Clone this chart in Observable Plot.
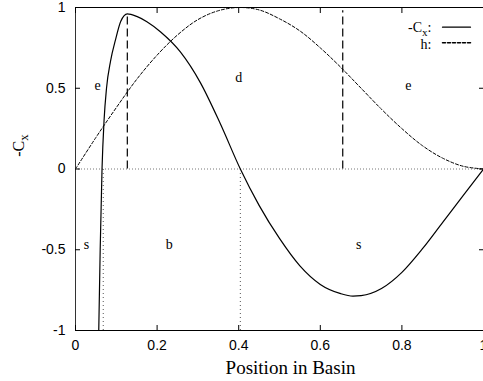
<!DOCTYPE html>
<html><head><meta charset="utf-8">
<script src="https://cdn.jsdelivr.net/npm/d3@7"></script>
<script src="https://cdn.jsdelivr.net/npm/@observablehq/plot@0.6"></script>
<style>body{margin:0;background:#fff}</style>
</head><body><div id="chart"></div>
<script>
// -Cx curve (solid)
const cxX = [0.057, 0.0605, 0.065, 0.070, 0.076, 0.086, 0.098, 0.111, 0.127, 0.15, 0.175, 0.208, 0.257, 0.306, 0.355, 0.404, 0.45, 0.5, 0.55, 0.6, 0.65, 0.68, 0.7, 0.75, 0.8, 0.85, 0.9, 0.95, 1.0];
const cxY = [-1, -0.5, 0, 0.3, 0.5, 0.67, 0.8, 0.915, 0.961, 0.945, 0.912, 0.85, 0.725, 0.535, 0.28, 0, -0.225, -0.43, -0.60, -0.715, -0.772, -0.787, -0.784, -0.74, -0.64, -0.495, -0.33, -0.165, 0];
// h curve (dashed)
const hX = [0, 0.05, 0.1, 0.15, 0.2, 0.25, 0.3, 0.35, 0.4, 0.45, 0.5, 0.55, 0.6, 0.65, 0.7, 0.75, 0.8, 0.85, 0.9, 0.95, 1];
const hY = [0, 0.195, 0.38, 0.555, 0.705, 0.83, 0.925, 0.98, 1.0, 0.985, 0.93, 0.855, 0.75, 0.63, 0.5, 0.37, 0.25, 0.145, 0.067, 0.017, 0];
// axes
const xTicks = [0, 0.2, 0.4, 0.6, 0.8, 1];
const xTickLabels = ["0", "0.2", "0.4", "0.6", "0.8", "1"];
const yTicks = [-1, -0.5, 0, 0.5, 1];
const yTickLabels = ["-1", "-0.5", "0", "0.5", "1"];
// region labels
const regionLabels = ["e", "d", "e", "s", "b", "s"];
const regionX = [0.054, 0.40, 0.816, 0.027, 0.23, 0.694];
const regionY = [0.52, 0.567, 0.52, -0.47, -0.47, -0.47];
// vertical markers
const dashX = [0.127, 0.655];
const dashTop = [0.961, 0.98];
const dotX = [0.068, 0.404];
const dotBottom = [-1, -1];
// legend
const legendNames = ["-Cx:", "h:"];

const cx = cxX.map((x, i) => ({x, y: cxY[i]}));
const h = hX.map((x, i) => ({x, y: hY[i]}));
const regions = regionLabels.map((t, i) => ({t, x: regionX[i], y: regionY[i]}));
const dashes = dashX.map((x, i) => ({x, y1: 0, y2: dashTop[i]}));
const dots = dotX.map((x, i) => ({x, y1: dotBottom[i], y2: 0}));

const serif = "Liberation Serif, Times New Roman, serif";
const lineShape = {draw(ctx, l) { ctx.moveTo(0, 0); ctx.lineTo(0, -l); }};

const chart = Plot.plot({
  width: 483, height: 381,
  marginLeft: 75, marginRight: 0, marginTop: 7, marginBottom: 51,
  x: {domain: [0, 1]},
  y: {domain: [-1, 1]},
  style: {fontFamily: "Liberation Sans, Arial, sans-serif", fontSize: "14px", background: "#fff", color: "#000"},
  marks: [
    Plot.ruleY([0], {stroke: "#777", strokeDasharray: "1,2"}),
    Plot.ruleX(dots, {x: "x", y1: "y1", y2: "y2", stroke: "#555", strokeDasharray: "1,3"}),
    Plot.ruleX(dashes, {x: "x", y1: "y1", y2: "y2", stroke: "#000", strokeWidth: 1.2, strokeDasharray: "8,4"}),
    Plot.line(h, {x: "x", y: "y", curve: "catmull-rom", stroke: "#000", strokeWidth: 1, strokeDasharray: "3,2", clip: true}),
    Plot.line(cx, {x: "x", y: "y", curve: "monotone-x", stroke: "#000", strokeWidth: 1.2, clip: true}),
    Plot.ruleY([-1, 1], {stroke: "#000"}),
    Plot.ruleX([0], {stroke: "#333"}),
    Plot.axisX(xTicks, {anchor: "bottom", tickSize: -5, tickPadding: 15, tickFormat: d => xTickLabels[xTicks.indexOf(d)], label: null}),
    Plot.axisX(xTicks, {anchor: "top", tickSize: -5, tickFormat: () => "", label: null}),
    Plot.axisY(yTicks, {anchor: "left", tickSize: -5, tickPadding: 15, tickFormat: d => yTickLabels[yTicks.indexOf(d)], label: null}),
    Plot.axisY(yTicks, {anchor: "right", tickSize: -5, tickFormat: () => "", label: null}),
    Plot.text(regions, {x: "x", y: "y", text: "t", fontFamily: serif, fontSize: 14}),
    Plot.text([legendNames[0]], {frameAnchor: "top-right", dx: -52, dy: 20, textAnchor: "end", lineAnchor: "middle", fontFamily: serif, fontSize: 14}),
    Plot.text([legendNames[1]], {frameAnchor: "top-right", dx: -52, dy: 37, textAnchor: "end", lineAnchor: "middle", fontFamily: serif, fontSize: 14}),
    Plot.vector([0], {frameAnchor: "top-right", dx: -41, dy: 19.7, rotate: 90, length: 28, anchor: "start", shape: lineShape, stroke: "#000", strokeWidth: 1.2}),
    Plot.vector([0], {frameAnchor: "top-right", dx: -41, dy: 35.3, rotate: 90, length: 28, anchor: "start", shape: lineShape, stroke: "#000", strokeDasharray: "3,2"}),
    Plot.text(["-Cx"], {frameAnchor: "left", dx: -57, dy: -23.5, rotate: -90, textAnchor: "middle", lineAnchor: "middle", fontFamily: serif, fontSize: 16}),
    Plot.text(["Position in Basin"], {frameAnchor: "bottom", dx: 11, dy: 37, textAnchor: "middle", lineAnchor: "middle", fontFamily: serif, fontSize: 19})
  ]
});

// subscripts for "Cx"
d3.select(chart).selectAll("text").filter(function() { return this.textContent === "-Cx:" || this.textContent === "-Cx"; }).each(function() {
  const colon = this.textContent.endsWith(":");
  const t = d3.select(this);
  t.text(null);
  t.append("tspan").text("-C");
  t.append("tspan").attr("dy", "0.35em").attr("font-size", "0.8em").text("x");
  if (colon) t.append("tspan").attr("dy", "-0.3em").text(":");
});

document.getElementById("chart").appendChild(chart);
</script>
</body></html>
